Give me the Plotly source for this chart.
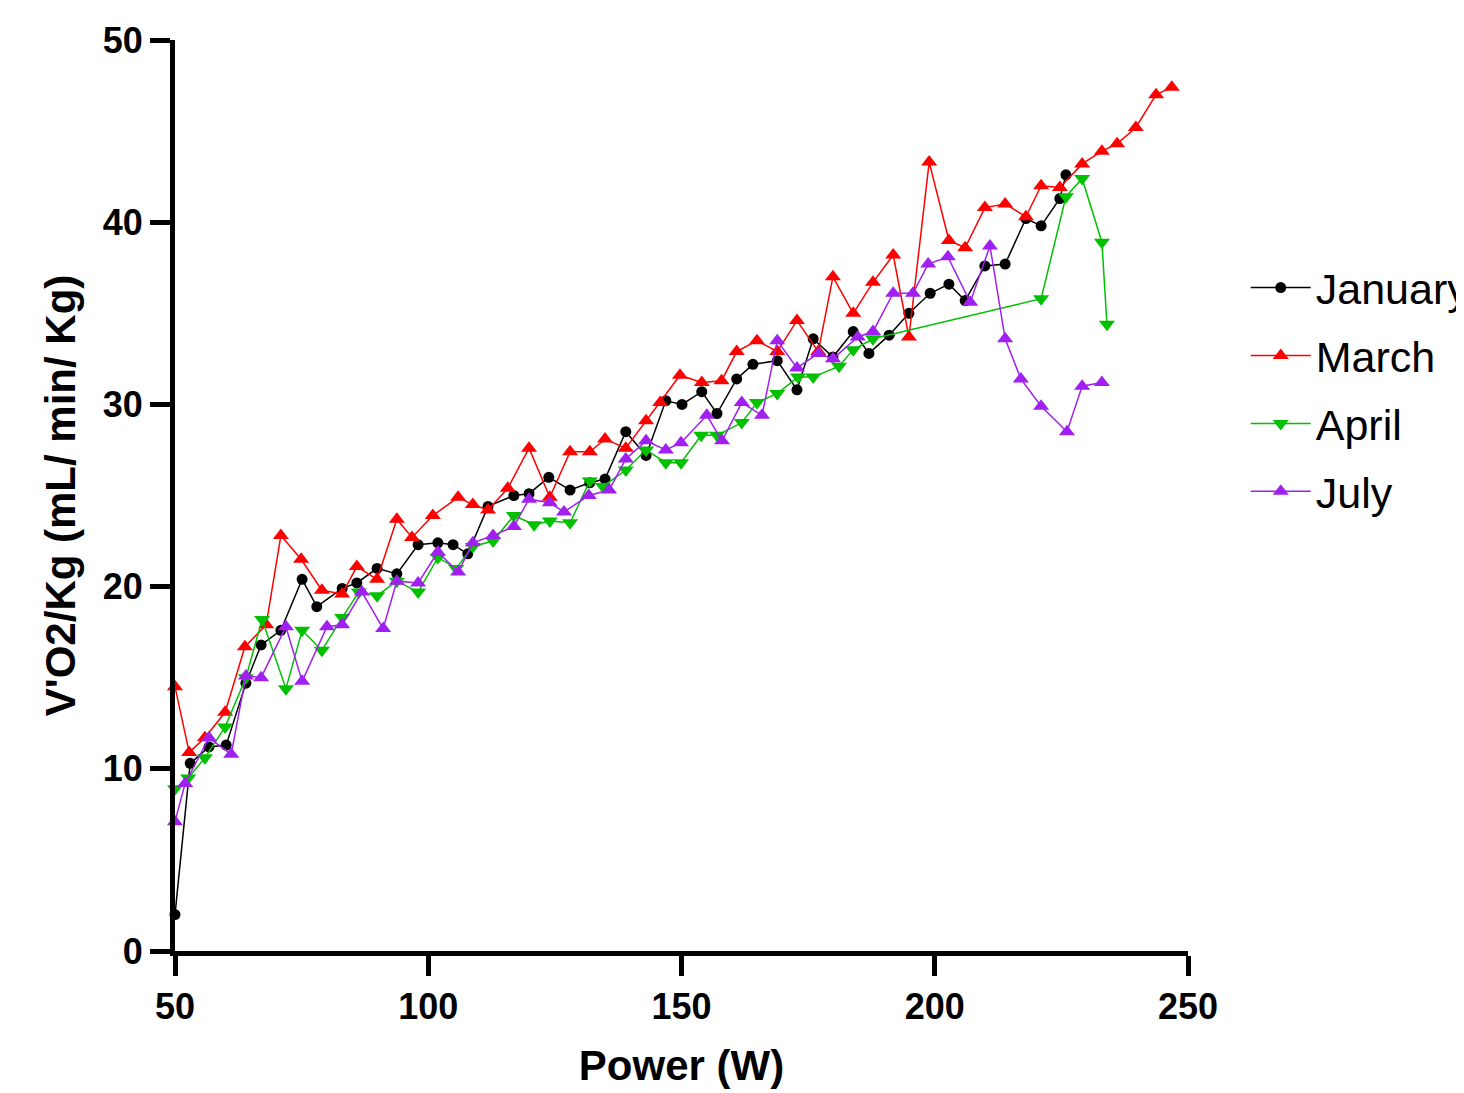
import plotly.graph_objects as go

# Power (W) and V'O2/Kg readings per test month
jan_x = [50, 53.0, 56.7, 60.1, 64.0, 67.0, 70.9, 75.1, 78.0, 83.0, 85.9, 89.9, 93.8, 98.0, 101.9, 104.9,
         107.8, 111.8, 116.9, 119.9, 123.8, 128.0, 131.9, 134.9, 139.0, 143.0, 146.9, 150.1, 154.0, 157.0,
         160.9, 164.1, 168.9, 172.8, 176.0, 179.9, 183.9, 187.0, 191.0, 194.9, 199.1, 202.8, 206.0, 209.9,
         213.9, 218.0, 221.0, 224.7, 225.9]
jan_y = [2.0, 10.3, 11.2, 11.3, 14.7, 16.8, 17.6, 20.4, 18.9, 19.9, 20.2, 21.0, 20.7, 22.3, 22.4, 22.3,
         21.8, 24.4, 25.0, 25.1, 26.0, 25.3, 25.7, 25.9, 28.5, 27.2, 30.2, 30.0, 30.7, 29.5,
         31.4, 32.2, 32.4, 30.8, 33.6, 32.6, 34.0, 32.8, 33.8, 35.0, 36.1, 36.6, 35.7, 37.6,
         37.7, 40.2, 39.8, 41.3, 42.6]

mar_x = [50, 52.8, 55.9, 59.9, 63.8, 68.0, 70.9, 74.9, 79.0, 83.0, 85.9, 89.9, 93.8, 96.8, 100.9, 105.9,
         108.8, 111.8, 115.7, 119.9, 124.0, 128.0, 131.9, 134.9, 139.0, 143.0, 145.8, 149.7, 154.0, 157.9,
         160.9, 164.9, 168.9, 172.8, 177.0, 179.9, 183.9, 187.8, 191.8, 194.9, 198.9, 202.8, 206.0, 209.9,
         213.9, 218.0, 221.0, 224.7, 229.1, 233.0, 236.0, 239.7, 243.7, 246.8]
mar_y = [14.5, 10.9, 11.7, 13.1, 16.7, 17.9, 22.8, 21.5, 19.8, 19.6, 21.1, 20.4, 23.7, 22.7, 23.9, 24.9,
         24.5, 24.2, 25.4, 27.6, 24.9, 27.4, 27.4, 28.1, 27.6, 29.1, 30.1, 31.6, 31.2, 31.3,
         32.9, 33.5, 32.9, 34.6, 32.9, 37.0, 35.0, 36.7, 38.2, 33.7, 43.3, 39.0, 38.6, 40.8,
         41.0, 40.3, 42.0, 41.9, 43.2, 43.9, 44.3, 45.2, 47.0, 47.4]

apr_x = [50, 52.6, 55.9, 59.9, 64.0, 67.2, 71.9, 75.1, 79.0, 83.0, 86.3, 89.9, 93.8, 98.0, 101.9, 105.5,
         108.8, 112.8, 116.9, 120.9, 124.0, 128.0, 131.9, 134.5, 139.0, 143.0, 146.9, 149.9, 153.9, 157.0,
         161.9, 164.9, 168.9, 173.0, 176.0, 181.1, 183.9, 187.8, 221.0, 225.9, 229.1, 233.0, 234.0]
apr_y = [8.9, 9.5, 10.6, 12.3, 15.0, 18.2, 14.4, 17.6, 16.5, 18.3, 19.7, 19.5, 20.3, 19.7, 21.6, 21.0,
         22.2, 22.5, 23.9, 23.4, 23.6, 23.5, 25.8, 25.5, 26.4, 27.5, 26.8, 26.8, 28.3, 28.3,
         29.0, 30.1, 30.6, 31.5, 31.5, 32.1, 33.0, 33.6, 35.8, 41.4, 42.4, 38.9, 34.4]

jul_x = [50, 52.0, 56.7, 61.1, 64.0, 67.0, 71.9, 75.1, 80.0, 83.0, 86.9, 91.1, 93.8, 98.0, 101.9, 105.9,
         108.8, 112.8, 116.9, 119.9, 124.0, 126.8, 131.7, 135.7, 139.0, 143.0, 146.9, 149.9, 155.0, 158.0,
         161.9, 165.9, 168.9, 172.8, 177.0, 179.9, 184.8, 187.8, 191.8, 195.7, 198.7, 202.6, 207.0, 210.9,
         213.9, 217.0, 221.0, 226.1, 229.1, 233.0]
jul_y = [7.1, 9.2, 11.7, 10.8, 15.1, 15.0, 17.8, 14.8, 17.8, 17.9, 19.7, 17.7, 20.3, 20.2, 21.9, 20.8,
         22.4, 22.8, 23.3, 24.8, 24.6, 24.1, 25.0, 25.3, 27.0, 28.0, 27.5, 27.9, 29.4, 28.0,
         30.1, 29.4, 33.5, 32.0, 32.8, 32.5, 33.7, 34.0, 36.1, 36.1, 37.7, 38.1, 35.6, 38.7,
         33.6, 31.4, 29.9, 28.5, 31.0, 31.2]

series = [
    ("January", jan_x, jan_y, "black", "circle", 11),
    ("March", mar_x, mar_y, "#ff0000", "triangle-up", 14),
    ("April", apr_x, apr_y, "#00c000", "triangle-down", 14),
    ("July", jul_x, jul_y, "#a020f0", "triangle-up", 14),
]

fig = go.Figure()
for i, (name, xs, ys, col, sym, sz) in enumerate(series):
    fig.add_trace(go.Scatter(
        x=xs, y=ys, name=name, mode="lines+markers",
        line=dict(color=col, width=1.5),
        marker=dict(color=col, symbol=sym, size=sz),
        cliponaxis=False, legendgroup=str(i)
    ))

fam = "Liberation Sans, Arial"
axis_font = dict(family=fam, size=36, color="black", weight="bold")

fig.update_layout(
    width=1464, height=1093,
    paper_bgcolor="white", plot_bgcolor="white",
    margin=dict(l=167, r=284, t=32, b=150, autoexpand=False),
    font=dict(family=fam, color="black"),
    legend=dict(x=1.057, y=0.766, xanchor="left", yanchor="top",
                font=dict(size=43, color="black"),
                traceorder="grouped", tracegroupgap=9, itemwidth=60),
    xaxis=dict(
        range=[50, 250], tickvals=[50, 100, 150, 200, 250],
        showline=True, linecolor="black", linewidth=5,
        ticks="outside", ticklen=20, tickwidth=5, tickcolor="black",
        showgrid=False, zeroline=False, tickfont=axis_font,
        title=dict(text="Power (W)", font=dict(family=fam, size=42, weight="bold"),
                   standoff=26),
    ),
    yaxis=dict(
        range=[0, 50], tickvals=[0, 10, 20, 30, 40, 50],
        showline=True, linecolor="black", linewidth=5,
        ticks="outside", ticklen=20, tickwidth=5, tickcolor="black",
        showgrid=False, zeroline=False, tickfont=axis_font,
        title=dict(text="V'O2/Kg (mL/ min/ Kg)", font=dict(family=fam, size=42, weight="bold"),
                   standoff=16),
    ),
)

fig.write_html("out.html")
